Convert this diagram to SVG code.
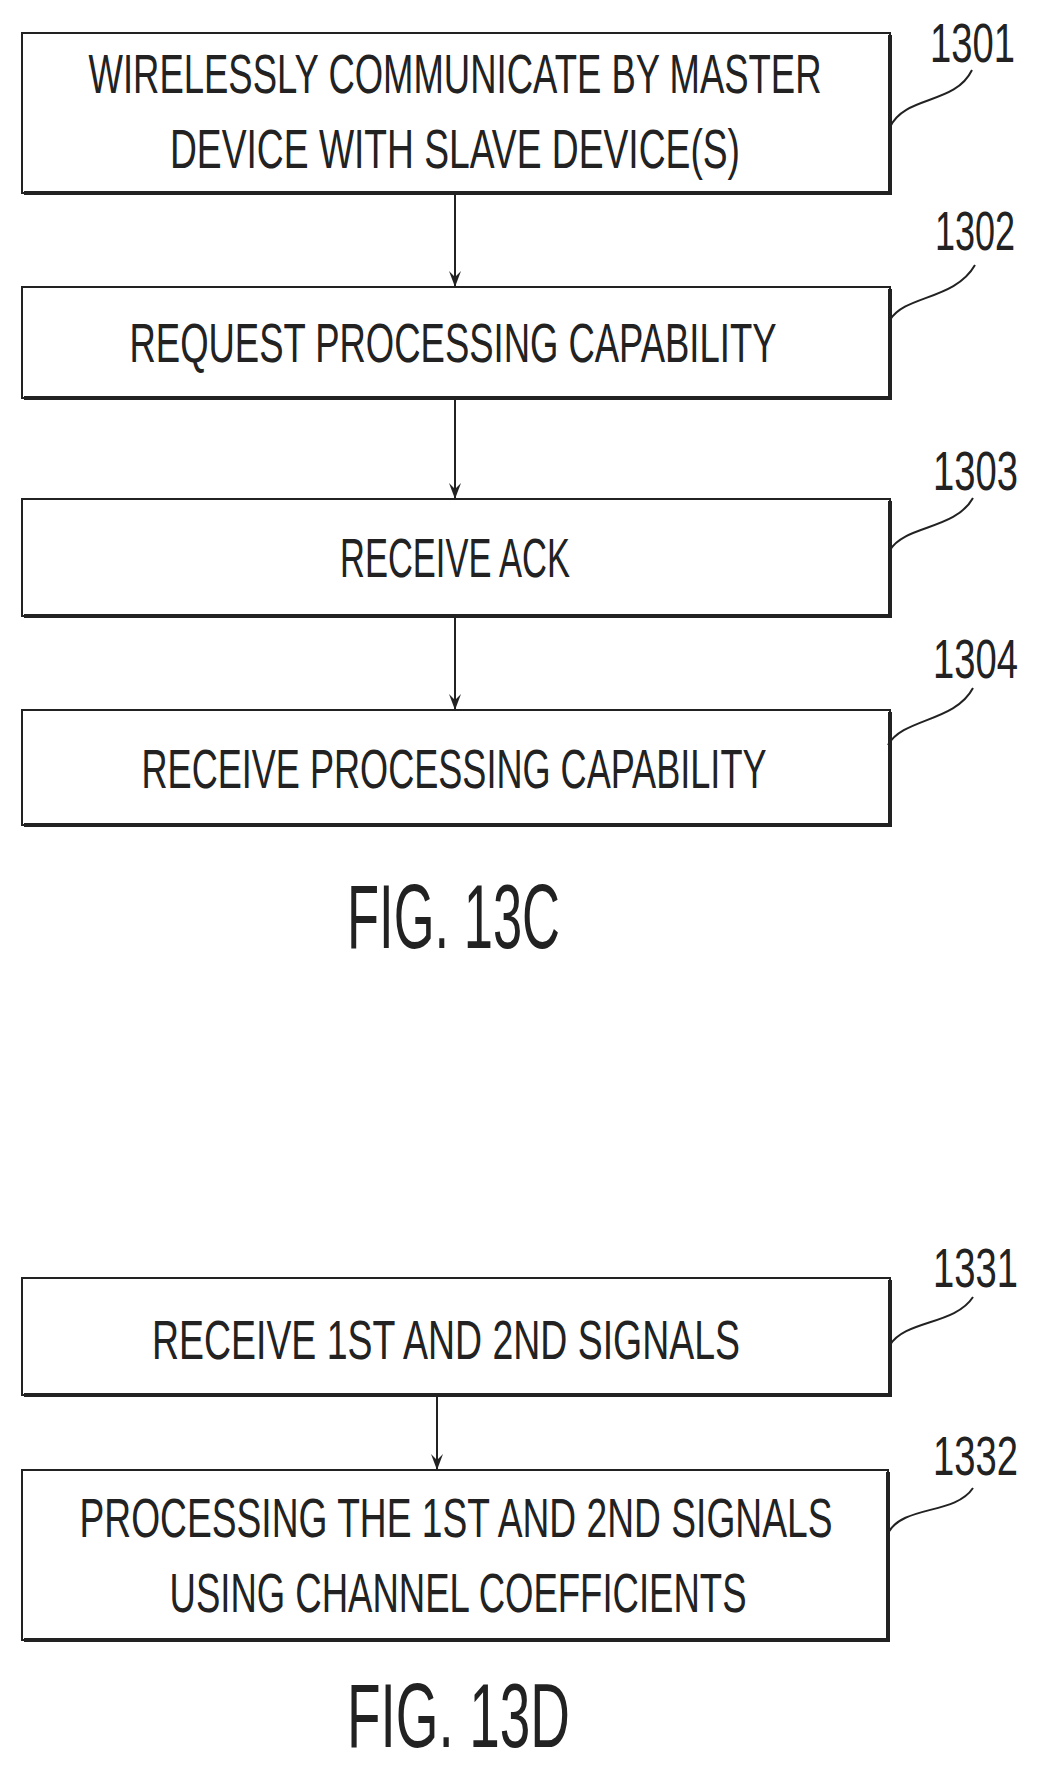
<svg xmlns="http://www.w3.org/2000/svg" width="1041" height="1766" viewBox="0 0 1041 1766">
<style>
.box{fill:none;stroke:#222;stroke-width:2}
.sh{stroke:#222;stroke-width:4;fill:none}
.t{font-family:"Liberation Sans",Arial,sans-serif;font-size:55px;fill:#222;text-anchor:middle}
.lb{font-family:"Liberation Sans",Arial,sans-serif;font-size:55px;fill:#222}
.fig{font-family:"Liberation Sans",Arial,sans-serif;font-size:90px;fill:#222}
.ld{fill:none;stroke:#222;stroke-width:2}
.ar{stroke:#222;stroke-width:2;fill:none}
</style>
<defs>
<marker id="ah" markerWidth="16" markerHeight="12" refX="16" refY="6" orient="auto" markerUnits="userSpaceOnUse" viewBox="0 0 16 12">
<path d="M0,0 L16,6 L0,12 L6,6 Z" fill="#222"/>
</marker>
</defs>
<rect width="1041" height="1766" fill="#fff"/>
<g id="connectors">
<line class="ar" x1="455" y1="193" x2="455" y2="287" marker-end="url(#ah)"/>
<line class="ar" x1="455" y1="398" x2="455" y2="499" marker-end="url(#ah)"/>
<line class="ar" x1="455" y1="616" x2="455" y2="710" marker-end="url(#ah)"/>
<line class="ar" x1="437" y1="1395" x2="437" y2="1470" marker-end="url(#ah)"/>
</g>
<g id="n1301">
<rect class="box" x="22" y="33" width="868" height="160"/>
<path class="sh" d="M890,35 V193 H24"/>
<text class="t" x="455" y="93" textLength="733" lengthAdjust="spacingAndGlyphs">WIRELESSLY COMMUNICATE BY MASTER</text>
<text class="t" x="455" y="168" textLength="570" lengthAdjust="spacingAndGlyphs">DEVICE WITH SLAVE DEVICE(S)</text>
<path class="ld" d="M890,127 C905,95 955,105 972,70"/>
<text class="lb" x="930" y="62" textLength="85" lengthAdjust="spacingAndGlyphs">1301</text>
</g>
<g id="n1302">
<rect class="box" x="22" y="287" width="868" height="111"/>
<path class="sh" d="M890,289 V398 H24"/>
<text class="t" x="453" y="362" textLength="647" lengthAdjust="spacingAndGlyphs">REQUEST PROCESSING CAPABILITY</text>
<path class="ld" d="M890,320 C905,295 955,300 975,265"/>
<text class="lb" x="935" y="250" textLength="80" lengthAdjust="spacingAndGlyphs">1302</text>
</g>
<g id="n1303">
<rect class="box" x="22" y="499" width="868" height="117"/>
<path class="sh" d="M890,501 V616 H24"/>
<text class="t" x="455" y="577" textLength="230" lengthAdjust="spacingAndGlyphs">RECEIVE ACK</text>
<path class="ld" d="M890,550 C905,525 955,530 973,498"/>
<text class="lb" x="933" y="490" textLength="85" lengthAdjust="spacingAndGlyphs">1303</text>
</g>
<g id="n1304">
<rect class="box" x="22" y="710" width="868" height="115"/>
<path class="sh" d="M890,712 V825 H24"/>
<text class="t" x="454" y="788" textLength="625" lengthAdjust="spacingAndGlyphs">RECEIVE PROCESSING CAPABILITY</text>
<path class="ld" d="M888,745 C903,718 955,722 973,688"/>
<text class="lb" x="933" y="678" textLength="85" lengthAdjust="spacingAndGlyphs">1304</text>
</g>
<text id="fig13c" class="fig" x="347" y="948" textLength="213" lengthAdjust="spacingAndGlyphs">FIG. 13C</text>
<g id="n1331">
<rect class="box" x="22" y="1278" width="868" height="117"/>
<path class="sh" d="M890,1280 V1395 H24"/>
<text class="t" x="446" y="1359" textLength="588" lengthAdjust="spacingAndGlyphs">RECEIVE 1ST AND 2ND SIGNALS</text>
<path class="ld" d="M890,1345 C905,1320 955,1325 973,1297"/>
<text class="lb" x="933" y="1287" textLength="85" lengthAdjust="spacingAndGlyphs">1331</text>
</g>
<g id="n1332">
<rect class="box" x="22" y="1470" width="866" height="170"/>
<path class="sh" d="M888,1472 V1640 H24"/>
<text class="t" x="456" y="1537" textLength="753" lengthAdjust="spacingAndGlyphs">PROCESSING THE 1ST AND 2ND SIGNALS</text>
<text class="t" x="458" y="1612" textLength="577" lengthAdjust="spacingAndGlyphs">USING CHANNEL COEFFICIENTS</text>
<path class="ld" d="M888,1533 C903,1505 955,1515 973,1488"/>
<text class="lb" x="933" y="1475" textLength="85" lengthAdjust="spacingAndGlyphs">1332</text>
</g>
<text id="fig13d" class="fig" x="347" y="1747" textLength="223" lengthAdjust="spacingAndGlyphs">FIG. 13D</text>
</svg>
